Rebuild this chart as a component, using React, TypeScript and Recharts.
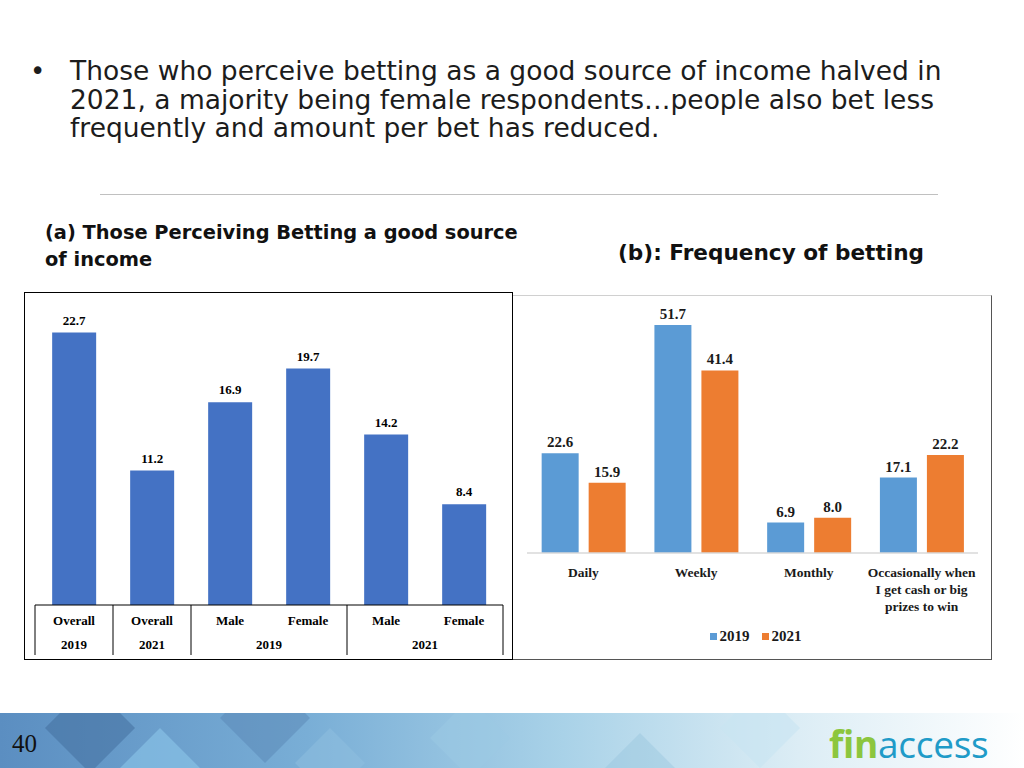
import { Bar, BarChart, LabelList, Legend, XAxis, YAxis } from "recharts";

// (a) perceiving betting a good source of income
const INCOME_CATS = ["Overall", "Overall", "Male", "Female", "Male", "Female"];
const INCOME_VALUES = [22.7, 11.2, 16.9, 19.7, 14.2, 8.4];
const INCOME_YEARS = ["2019", "2021", "2019", "2021"];
const INCOME_YEAR_SPANS = [1, 1, 2, 2];

// (b) frequency of betting
const FREQ_CATS = ["Daily", "Weekly", "Monthly", "Occasionally when I get cash or big prizes to win"];
const FREQ_CAT_LINES = [["Daily"], ["Weekly"], ["Monthly"], ["Occasionally  when", "I get cash or big", "prizes to win"]];
const FREQ_2019 = [22.6, 51.7, 6.9, 17.1];
const FREQ_2021 = [15.9, 41.4, 8.0, 22.2];
const SERIES_YEARS = ["2019", "2021"];

const incomeData = INCOME_CATS.map((cat, i) => ({ cat, v: INCOME_VALUES[i] }));
const freqData = FREQ_CATS.map((cat, i) => ({ cat, y2019: FREQ_2019[i], y2021: FREQ_2021[i] }));

const GROUP_START = INCOME_YEAR_SPANS.map((_, k) => INCOME_YEAR_SPANS.slice(0, k).reduce((a, b) => a + b, 0));

const BLUE_A = "#4472C4";
const BLUE_B = "#5B9BD5";
const ORANGE_B = "#ED7D31";
const SERIF = "'Liberation Serif', 'Times New Roman', serif";
const WIDE = "'DejaVu Sans', Verdana, sans-serif";

const A_W = 489;
const A_H = 368;
const A_MARGIN = { top: 13, right: 10, bottom: 0, left: 11 };
const A_BAND = (A_W - A_MARGIN.left - A_MARGIN.right) / INCOME_CATS.length;

const B_W = 479;
const B_H = 365;
const B_MARGIN = { top: 11, right: 14, bottom: 0, left: 14 };

const serifBold = { fontFamily: SERIF, fontWeight: 700 } as const;

function TableTick({ x, y, payload }: any) {
  const i = payload.index;
  const left = x - A_BAND / 2;
  const g = GROUP_START.indexOf(i);
  const span = g >= 0 ? INCOME_YEAR_SPANS[g] : 0;
  return (
    <g>
      <text x={x} y={y + 20} textAnchor="middle" fontSize={13} fill="#000" {...serifBold}>
        {payload.value}
      </text>
      {g >= 0 && (
        <>
          <line x1={left} x2={left} y1={y} y2={y + 50} stroke="#000" strokeWidth={1} />
          <text x={left + (span * A_BAND) / 2} y={y + 44} textAnchor="middle" fontSize={13} fill="#000" {...serifBold}>
            {INCOME_YEARS[g]}
          </text>
          {g === INCOME_YEARS.length - 1 && (
            <line x1={left + span * A_BAND} x2={left + span * A_BAND} y1={y} y2={y + 50} stroke="#000" strokeWidth={1} />
          )}
        </>
      )}
    </g>
  );
}

function FreqTick({ x, y, payload }: any) {
  const lines = FREQ_CAT_LINES[payload.index] || [payload.value];
  return (
    <text x={x} y={y + 24} textAnchor="middle" fontSize={13.5} fill="#1a1a1a" {...serifBold}>
      {lines.map((l, k) => (
        <tspan key={k} x={x} dy={k ? 17 : 0}>
          {l}
        </tspan>
      ))}
    </text>
  );
}

function YearLegend() {
  const colors = [BLUE_B, ORANGE_B];
  return (
    <div style={{ height: 40, display: "flex", justifyContent: "center", alignItems: "flex-start", paddingLeft: 6 }}>
      {SERIES_YEARS.map((yr, i) => (
        <div key={yr} style={{ display: "flex", alignItems: "center", marginRight: i === 0 ? 12 : 0, height: 32 }}>
          <span style={{ width: 7, height: 7, background: colors[i], display: "inline-block", marginRight: 3 }} />
          <span style={{ ...serifBold, fontSize: 15, color: "#1a1a1a" }}>{yr}</span>
        </div>
      ))}
    </div>
  );
}

function IncomeChart() {
  return (
    <BarChart width={A_W} height={A_H} data={incomeData} margin={A_MARGIN} barCategoryGap="22%">
      <XAxis
        dataKey="cat"
        interval={0}
        height={55}
        tickSize={0}
        tickMargin={0}
        tickLine={false}
        axisLine={{ stroke: "#000", strokeWidth: 1 }}
        tick={<TableTick />}
      />
      <YAxis hide domain={[0, 25]} />
      <Bar dataKey="v" fill={BLUE_A} isAnimationActive={false}>
        <LabelList dataKey="v" position="top" offset={8} fontSize={13} fill="#000" {...serifBold} formatter={(v: any) => Number(v).toFixed(1)} />
      </Bar>
    </BarChart>
  );
}

function FreqChart() {
  return (
    <BarChart width={B_W} height={B_H} data={freqData} margin={B_MARGIN} barCategoryGap="13%" barGap={10}>
      <XAxis
        dataKey="cat"
        interval={0}
        height={67}
        tickSize={0}
        tickMargin={0}
        tickLine={false}
        axisLine={{ stroke: "#d9d9d9", strokeWidth: 1.5 }}
        tick={<FreqTick />}
      />
      <YAxis hide domain={[0, 56]} />
      <Legend verticalAlign="bottom" height={40} content={<YearLegend />} />
      <Bar dataKey="y2019" name="2019" fill={BLUE_B} isAnimationActive={false}>
        <LabelList dataKey="y2019" position="top" offset={6} fontSize={15} fill="#1a1a1a" {...serifBold} formatter={(v: any) => Number(v).toFixed(1)} />
      </Bar>
      <Bar dataKey="y2021" name="2021" fill={ORANGE_B} isAnimationActive={false}>
        <LabelList dataKey="y2021" position="top" offset={6} fontSize={15} fill="#1a1a1a" {...serifBold} formatter={(v: any) => Number(v).toFixed(1)} />
      </Bar>
    </BarChart>
  );
}

function Diamond({ cx, cy, r, fill, opacity }: { cx: number; cy: number; r: number; fill: string; opacity: number }) {
  return <polygon points={`${cx},${cy - r} ${cx + r},${cy} ${cx},${cy + r} ${cx - r},${cy}`} fill={fill} opacity={opacity} />;
}

function Banner() {
  return (
    <>
      <svg width={1024} height={55} style={{ position: "absolute", left: 0, top: 713 }}>
        <defs>
          <linearGradient id="bannerFade" x1="0" y1="0" x2="1" y2="0">
            <stop offset="0%" stopColor="#5b8ec1" />
            <stop offset="30%" stopColor="#79aed6" />
            <stop offset="55%" stopColor="#a9d2e8" />
            <stop offset="78%" stopColor="#dcedf5" />
            <stop offset="100%" stopColor="#ffffff" />
          </linearGradient>
        </defs>
        <rect x={0} y={0} width={1024} height={55} fill="url(#bannerFade)" />
        <Diamond cx={90} cy={15} r={45} fill="#44709e" opacity={0.55} />
        <Diamond cx={160} cy={55} r={40} fill="#8cc6ea" opacity={0.6} />
        <Diamond cx={265} cy={5} r={45} fill="#5783b2" opacity={0.45} />
        <Diamond cx={330} cy={50} r={35} fill="#8fc0e0" opacity={0.5} />
        <Diamond cx={470} cy={25} r={40} fill="#9cc9e3" opacity={0.5} />
        <Diamond cx={640} cy={55} r={35} fill="#8fbfd9" opacity={0.35} />
        <Diamond cx={760} cy={15} r={40} fill="#c8e4f2" opacity={0.6} />
      </svg>
      <div style={{ position: "absolute", left: 12, top: 729, fontFamily: SERIF, fontSize: 25, lineHeight: "30px", color: "#111" }}>40</div>
      <div
        style={{
          position: "absolute",
          left: 829,
          top: 722,
          fontFamily: "'Open Sans', sans-serif",
          fontSize: 37,
          lineHeight: "44px",
          letterSpacing: -0.3,
          whiteSpace: "nowrap",
        }}
      >
        <span style={{ color: "#8cc63e", fontWeight: 700 }}>fin</span>
        <span style={{ color: "#1f9bc8" }}>access</span>
      </div>
    </>
  );
}

export default function App() {
  return (
    <div style={{ position: "absolute", left: 0, top: 0, width: 1024, height: 768, background: "#fff", overflow: "hidden" }}>
      <div style={{ position: "absolute", left: 30, top: 57, fontFamily: WIDE, fontSize: 26, lineHeight: "28.5px", color: "#1c1c1c" }}>•</div>
      <div
        style={{
          position: "absolute",
          left: 70,
          top: 57,
          fontFamily: WIDE,
          fontSize: 26.5,
          lineHeight: "28.5px",
          color: "#1c1c1c",
          whiteSpace: "nowrap",
        }}
      >
        Those who perceive betting as a good source of income halved in
        <br />
        2021, a majority being female respondents…people also bet less
        <br />
        frequently and amount per bet has reduced.
      </div>
      <div style={{ position: "absolute", left: 100, top: 194, width: 838, height: 1, background: "#c0c0c0" }} />

      <div style={{ position: "absolute", left: 45, top: 219, fontFamily: WIDE, fontWeight: 700, fontSize: 19.4, lineHeight: "27px", color: "#111", whiteSpace: "nowrap" }}>
        (a) Those Perceiving Betting a good source
        <br />
        of income
      </div>
      <div style={{ position: "absolute", left: 618, top: 239, fontFamily: WIDE, fontWeight: 700, fontSize: 21.6, lineHeight: "28px", color: "#111", whiteSpace: "nowrap" }}>
        (b): Frequency of betting
      </div>

      <div style={{ position: "absolute", left: 24, top: 292 }}>
        <IncomeChart />
      </div>
      <div style={{ position: "absolute", left: 24, top: 292, width: A_W, height: A_H, boxSizing: "border-box", border: "1px solid #000", pointerEvents: "none" }} />

      <div style={{ position: "absolute", left: 513, top: 295 }}>
        <FreqChart />
      </div>
      <div style={{ position: "absolute", left: 513, top: 295, width: B_W, height: B_H, boxSizing: "border-box", borderTop: "1px solid #d0d0d0", borderRight: "1px solid #555", borderBottom: "1px solid #555", pointerEvents: "none" }} />

      <Banner />
    </div>
  );
}
